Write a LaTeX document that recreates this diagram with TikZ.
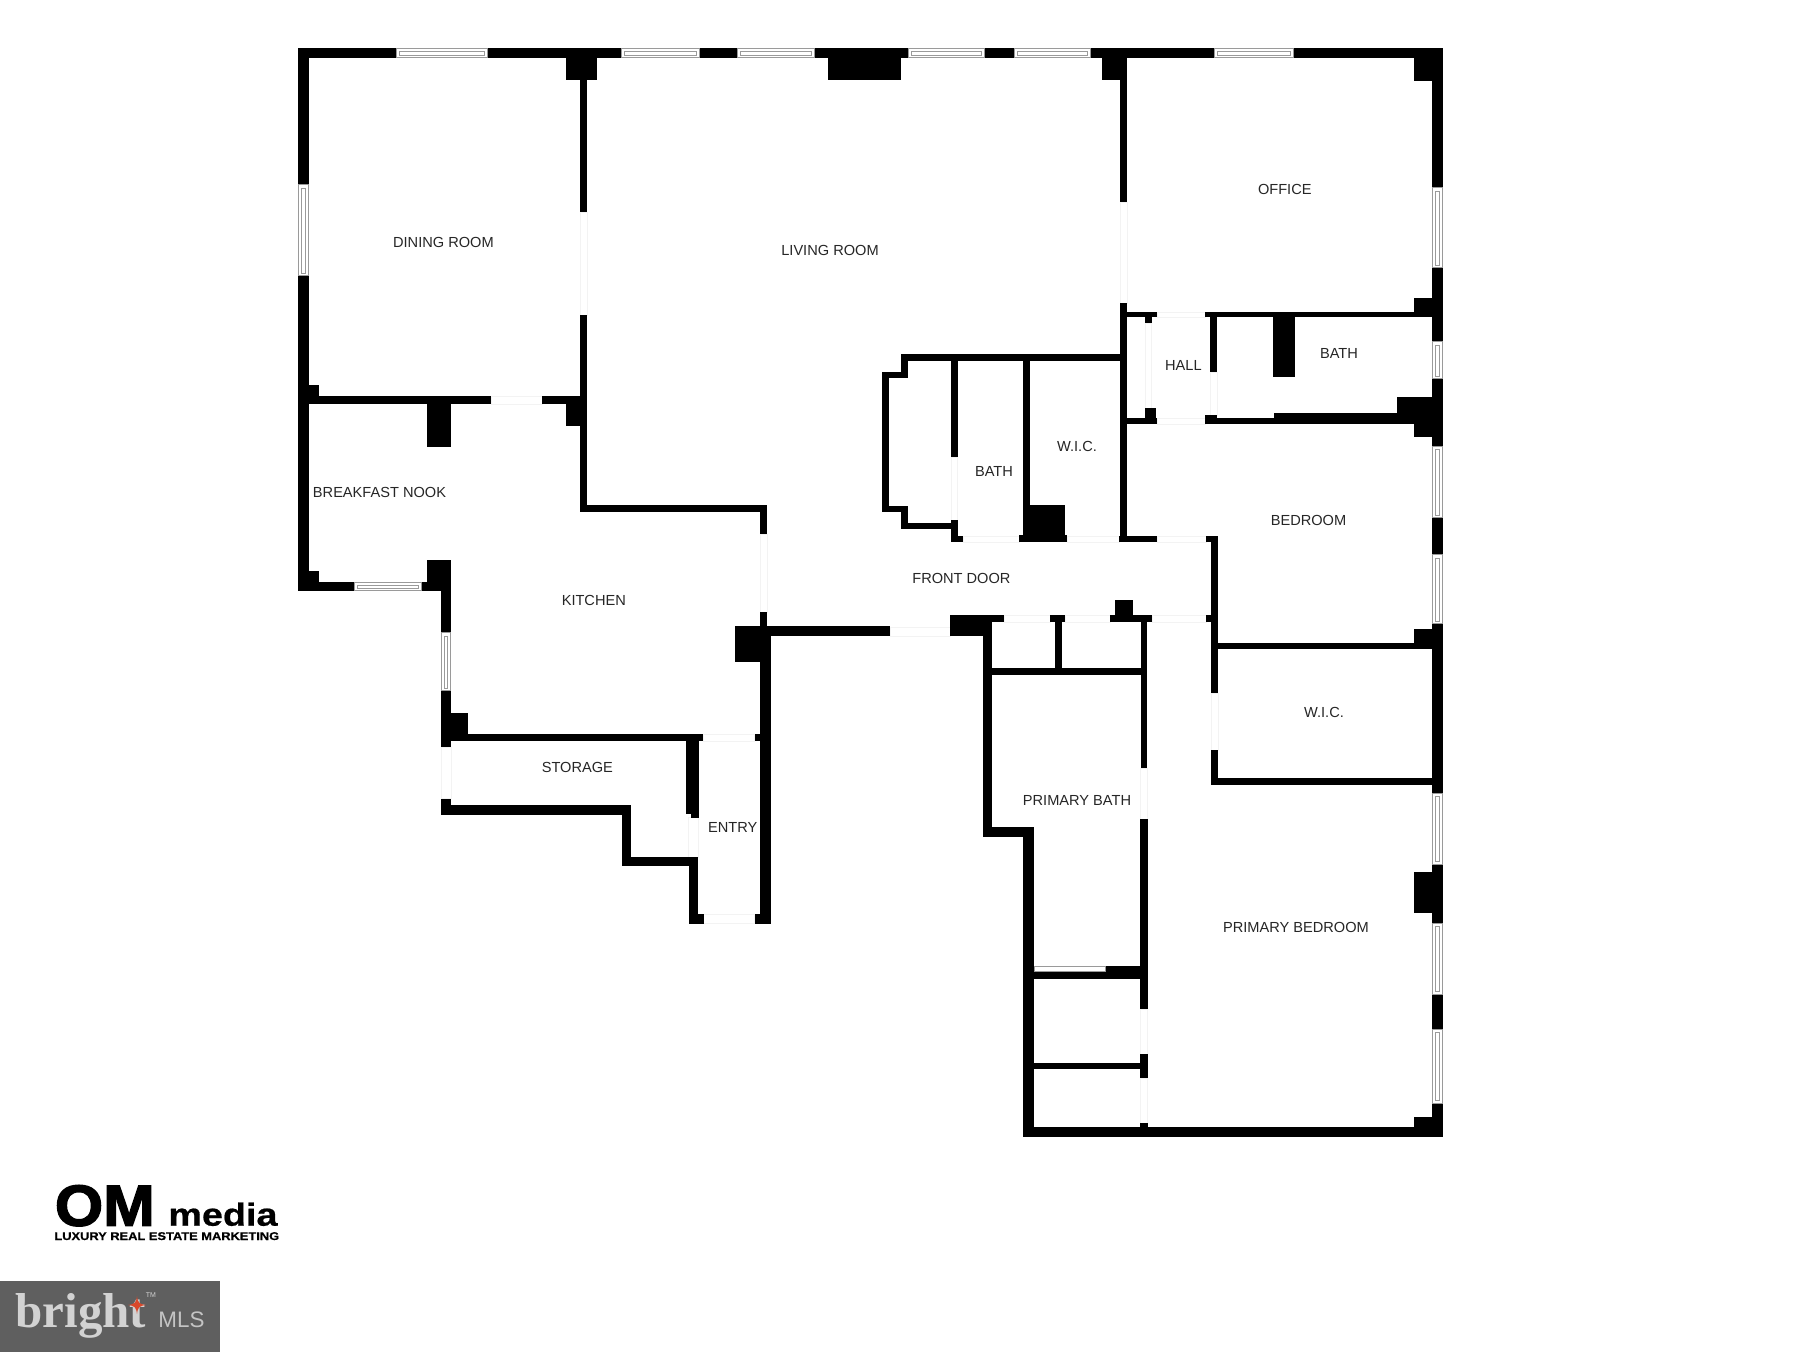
\documentclass[tikz,border=0pt]{standalone}
\usepackage{fontspec}
\setmainfont{Liberation Sans}
\newfontfamily\omfont[FakeBold=2.5,FakeStretch=1.07]{Liberation Sans Bold}
\newfontfamily\mediafont[FakeBold=0.6,FakeStretch=1.18]{Liberation Sans Bold}
\newfontfamily\tagfont[FakeBold=0.6,FakeStretch=1.148]{Liberation Sans Bold}
\newfontfamily\brightfont{Liberation Serif Bold}
\definecolor{labelink}{HTML}{262626}
\definecolor{winline}{HTML}{9A9A9A}
\definecolor{faintline}{HTML}{F3F3F3}
\definecolor{brightbg}{HTML}{5F5F5F}
\definecolor{brightfg}{HTML}{D2D2D2}
\definecolor{mlsfg}{HTML}{C4C4C4}
\definecolor{brightred}{HTML}{D9492B}
\newcommand{\wallr}[4]{\fill[black] (#1,#2) rectangle (#3,#4);}
\newcommand{\hwin}[4]{%
  \draw[winline,fill=white,line width=0.5pt] (#1,#3) rectangle (#2,#4);
  \draw[winline,line width=0.35pt] (#1+3,#3+2.8) rectangle (#2-3,#4-2.8);}
\newcommand{\vwin}[4]{%
  \draw[winline,fill=white,line width=0.5pt] (#1,#3) rectangle (#2,#4);
  \draw[winline,line width=0.35pt] (#1+2.8,#3+3) rectangle (#2-2.8,#4-3);}
\newcommand{\faintr}[4]{\draw[faintline,line width=0.4pt] (#1,#2) rectangle (#3,#4);}
\tikzset{roomlabel/.style={text=labelink,inner sep=0pt,yshift=-0.12pt,font=\fontsize{7.3}{8.6}\selectfont}}
\begin{document}
\begin{tikzpicture}[x=0.5pt,y=-0.5pt]
\useasboundingbox (0,0) rectangle (1800,1352);
\fill[white] (0,0) rectangle (1800,1352);
% faint door openings
\faintr{580}{212}{587}{315}
\faintr{491}{396}{542}{404}
\faintr{1120}{202}{1127}{303}
\faintr{951}{457}{957.6}{520}
\faintr{963}{536}{1019}{542}
\faintr{1067}{536}{1119}{542}
\faintr{1157}{536}{1206}{542}
\faintr{1004}{615}{1050}{622}
\faintr{1065}{615}{1110}{622}
\faintr{1152}{615}{1206}{622}
\faintr{890}{627}{950}{636}
\faintr{1211}{693}{1218}{750}
\faintr{1140}{768}{1147}{819}
\faintr{1140}{1009}{1147}{1054}
\faintr{1140}{1078}{1147}{1123}
\faintr{760}{534}{767}{612}
\faintr{703}{734}{754.6}{741}
\faintr{703.6}{914}{754.6}{923}
\faintr{441}{747}{451}{798.6}
\faintr{688}{817}{698}{857}
\faintr{1157}{312}{1205}{317}
\faintr{1157}{418}{1205}{424}
\faintr{1145}{323}{1151}{408}
\faintr{1210}{372}{1217}{415}
% top wall
\wallr{298}{48}{396.7}{58.3}
\wallr{487}{48}{621.7}{58.3}
\wallr{699}{48}{737}{58.3}
\wallr{814}{48}{908}{58.3}
\wallr{984}{48}{1014}{58.3}
\wallr{1090}{48}{1214}{58.3}
\wallr{1293}{48}{1443}{58.3}
\hwin{396.7}{487}{48.5}{58}
\hwin{621.7}{699}{48.5}{58}
\hwin{737}{814}{48.5}{58}
\hwin{908}{984}{48.5}{58}
\hwin{1014}{1090}{48.5}{58}
\hwin{1214}{1293}{48.5}{58}
% blocks on top wall
\wallr{566}{48}{597}{80}
\wallr{828.4}{48}{901}{80}
\wallr{1102}{48}{1127}{80}
\wallr{1414}{48}{1443}{80.7}
% left wall
\wallr{298}{48}{308.7}{185}
\wallr{298}{276}{308.7}{591.4}
\vwin{298.5}{308.2}{185}{276}
\wallr{298}{385}{319.4}{403}
\wallr{298}{571}{319.4}{591.4}
% dining / kitchen wall
\wallr{298}{396}{491}{404}
\wallr{542}{396}{587}{404}
\wallr{426.6}{396}{451}{446.7}
\wallr{566}{396}{587}{426}
% dining / living wall
\wallr{579.7}{58}{587.3}{211.7}
\wallr{579.7}{315}{587.3}{512}
\wallr{580}{505}{767}{512}
\wallr{760.3}{505}{767}{534}
\wallr{760.3}{612}{767}{626}
% breakfast nook lower wall
\wallr{298}{582}{354}{591.4}
\hwin{354}{421.6}{582.5}{591}
\wallr{421.6}{582}{451}{591.4}
\wallr{426.6}{560}{451}{591.4}
% kitchen left wall
\wallr{441}{591}{451}{633}
\vwin{441.5}{450.5}{633}{691}
\wallr{441}{691}{451}{747}
\wallr{441}{713}{468}{741.4}
\wallr{441}{734}{703}{741.4}
% storage
\wallr{441}{798.6}{451}{815}
\wallr{441}{805}{631.3}{815}
\wallr{621.7}{805}{631.3}{866.4}
\wallr{621.7}{857}{698}{866.4}
\wallr{688.7}{857}{698}{923.6}
\wallr{688.7}{914}{703.6}{923.6}
\wallr{686.4}{741}{699}{814}
\wallr{691}{814}{699}{817.5}
% entry right wall and kitchen block
\wallr{754.6}{734}{762}{741}
\wallr{760.3}{626}{770.6}{923.6}
\wallr{754.6}{914}{770.6}{923.6}
\wallr{735.4}{626}{770.6}{662}
% front wall
\wallr{770}{626.5}{890}{636}
\wallr{950}{615}{992}{636}
\wallr{950.7}{615}{1004.3}{621.7}
% primary bath outer wall
\wallr{982.5}{621}{992}{837}
\wallr{982.5}{827}{1034}{837}
\wallr{1023}{827}{1034}{1137}
\wallr{1023}{1127}{1442}{1137}
% linen closets at front door
\wallr{1050}{615}{1064.7}{621.7}
\wallr{1055}{615}{1061.7}{675}
\wallr{1115}{600}{1132.5}{617}
\wallr{1110}{615}{1151.6}{621.7}
\wallr{1140.5}{615}{1147}{767.7}
\wallr{992}{668}{1147}{675}
% primary bath right wall and closets
\wallr{1140.3}{819}{1147.7}{1009}
\wallr{1105}{965.7}{1147}{979}
\wallr{1034}{972}{1147}{979}
\draw[winline,fill=white,line width=0.4pt] (1034,966) rectangle (1105,971.6);
\wallr{1140.3}{1054}{1147.7}{1078}
\wallr{1034}{1062.7}{1140}{1069.3}
\wallr{1140.3}{1123}{1147.7}{1127}
% living room closets
\wallr{901}{354}{1120}{361}
\wallr{901}{354}{908}{378}
\wallr{882}{372}{908}{378}
\wallr{882}{372}{889}{512.3}
\wallr{882}{506}{908}{512.3}
\wallr{901}{506}{908}{529.3}
\wallr{901}{522.7}{957.6}{529.3}
\wallr{951}{520}{957.6}{541.7}
\wallr{951}{536}{963.3}{541.7}
\wallr{951}{361}{957.6}{456.7}
\wallr{1023.4}{361}{1029.5}{537}
\wallr{1023.4}{505}{1064.7}{537}
\wallr{1018.8}{535}{1066.7}{542}
% living / office wall and bedroom wall
\wallr{1119.5}{58}{1127}{202}
\wallr{1119.5}{303}{1127}{542}
\wallr{1119}{535.7}{1156.6}{542.3}
% hall
\wallr{1119.5}{311.7}{1157}{317.3}
\wallr{1205}{311.7}{1432}{317.3}
\wallr{1145}{317}{1151.6}{322.7}
\wallr{1210}{312}{1217}{372}
\wallr{1273}{317}{1295}{377}
\wallr{1119.5}{417.7}{1157}{424.3}
\wallr{1205}{417.7}{1400}{424.3}
\wallr{1274}{412.7}{1400}{424.3}
\wallr{1145}{408}{1156}{418}
\wallr{1205}{415}{1217}{418}
\wallr{1396.5}{396.7}{1434}{424}
\wallr{1414}{396.7}{1443}{437}
\wallr{1414}{298}{1443}{317.3}
% bedroom left walls
\wallr{1206}{535.7}{1218}{541.7}
\wallr{1211}{536}{1218}{692.7}
\wallr{1206}{615}{1212}{622}
\wallr{1211}{643}{1432}{649.3}
\wallr{1414}{629}{1443}{649.3}
\wallr{1211}{750}{1218}{785}
\wallr{1211}{778}{1432}{785}
% right wall
\wallr{1432}{48}{1443}{188}
\wallr{1432}{268}{1443}{342}
\wallr{1432}{379}{1443}{446.7}
\wallr{1432}{518}{1443}{555}
\wallr{1432}{624}{1443}{793}
\wallr{1432}{864}{1443}{923}
\wallr{1432}{994}{1443}{1029}
\wallr{1432}{1103}{1443}{1137}
\vwin{1432.5}{1442.5}{188}{268}
\vwin{1432.5}{1442.5}{342}{379}
\vwin{1432.5}{1442.5}{446.7}{518}
\vwin{1432.5}{1442.5}{555}{624}
\vwin{1432.5}{1442.5}{793}{864}
\vwin{1432.5}{1442.5}{923}{994}
\vwin{1432.5}{1442.5}{1029}{1103}
\wallr{1414}{872}{1433}{913}
\wallr{1414}{1117}{1442}{1137}
% room labels
\node[roomlabel] (dining) at (443.4,242.3) {DINING ROOM};
\node[roomlabel] (living) at (830,250) {LIVING ROOM};
\node[roomlabel] (office) at (1284.8,189) {OFFICE};
\node[roomlabel] (hall) at (1183.4,365) {HALL};
\node[roomlabel] (bathn) at (1339,353) {BATH};
\node[roomlabel] (wica) at (1077,446.7) {W.I.C.};
\node[roomlabel] (baths) at (994,471) {BATH};
\node[roomlabel] (bedroom) at (1308.5,520) {BEDROOM};
\node[roomlabel] (frontdoor) at (961.4,578) {FRONT DOOR};
\node[roomlabel] (wicb) at (1324,712) {W.I.C.};
\node[roomlabel] (pbath) at (1077,800) {PRIMARY BATH};
\node[roomlabel] (pbed) at (1296,927.7) {PRIMARY BEDROOM};
\node[roomlabel] (nook) at (379.5,491.8) {BREAKFAST NOOK};
\node[roomlabel] (kitchen) at (593.8,600) {KITCHEN};
\node[roomlabel] (storage) at (577.4,767.5) {STORAGE};
\node[roomlabel] (entry) at (732.7,827.5) {ENTRY};
% OM media logo
\node[anchor=base west,inner sep=0pt,font=\omfont\fontsize{29}{30}\selectfont] (om) at (54.5,1225.7) {OM};
\node[anchor=base west,inner sep=0pt,font=\mediafont\fontsize{16}{17}\selectfont] (media) at (168,1225.7) {media};
\node[anchor=base west,inner sep=0pt,font=\tagfont\fontsize{5.6}{6}\selectfont] (tagline) at (54,1240) {LUXURY REAL ESTATE MARKETING};
% bright MLS badge
\fill[brightbg] (0,1281) rectangle (220,1352);
\node[anchor=base west,inner sep=0pt,text=brightfg,font=\brightfont\fontsize{24.5}{26}\selectfont] (bright) at (15,1327.7) {bright};
\fill[brightred] (137,1296) .. controls (138,1303) and (139,1304) .. (146,1305) .. controls (139,1306) and (138,1307) .. (137,1314) .. controls (136,1307) and (135,1306) .. (128,1305) .. controls (135,1304) and (136,1303) .. (137,1296) -- cycle;
\node[inner sep=0pt,text=brightfg,font=\fontsize{3.5}{4}\selectfont] (tm) at (151,1295) {TM};
\node[anchor=base west,inner sep=0pt,text=mlsfg,font=\fontsize{11.2}{12}\selectfont] (mls) at (158,1327.7) {MLS};
\end{tikzpicture}
\end{document}
